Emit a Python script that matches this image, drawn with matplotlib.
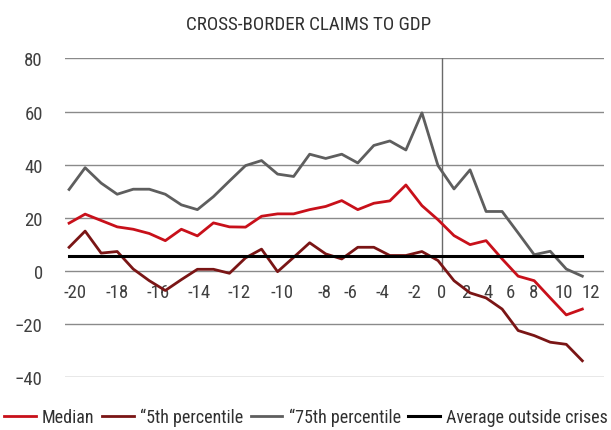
import numpy as np
import matplotlib
matplotlib.use('Agg')
import matplotlib.pyplot as plt
from matplotlib import font_manager

# 字体: 尽量用窄体
names = set(f.name for f in font_manager.fontManager.ttflist)
font = 'Liberation Sans'
for n in ['Roboto Condensed', 'Archivo Narrow', 'PT Sans Narrow', 'Liberation Sans Narrow']:
    if n in names:
        font = n
        break
plt.rcParams['font.family'] = [font, 'DejaVu Sans']

# 数据
periods = list(range(-20, 13))
median = [17.9, 21.3, 18.9, 16.5, 15.6, 14.0, 11.3, 15.6, 13.1, 18.0, 16.5,
          16.4, 20.5, 21.4, 21.4, 23.0, 24.2, 26.4, 23.0, 25.4, 26.3, 32.3,
          24.5, 19.2, 13.2, 9.8, 11.3, 4.4, -2.1, -3.8, -10.3, -16.7, -14.5]
p5 = [8.8, 14.9, 6.6, 7.2, 0.6, -3.8, -7.5, -3.4, 0.5, 0.5, -1.0,
      4.8, 8.1, -0.4, 5.0, 10.5, 6.3, 4.4, 8.8, 8.8, 5.7, 5.7,
      7.2, 3.8, -3.8, -8.4, -10.3, -14.5, -22.6, -24.5, -27.0, -27.8, -34.0]
p75 = [30.6, 38.8, 33.0, 28.8, 30.7, 30.7, 28.8, 24.8, 23.0, 27.9, 33.8,
       39.6, 41.5, 36.4, 35.5, 43.9, 42.3, 43.9, 40.6, 47.2, 48.9, 45.5,
       59.5, 39.6, 30.8, 38.0, 22.3, 22.3, 14.2, 6.0, 7.3, 0.6, -2.1]
avg_outside = 5.4

tick_labels = ['-20', '-18', '-16', '-14', '-12', '-10', '-8', '-6', '-4', '-2',
               '0', '2', '4', '6', '8', '10', '12']
# 标签位置(原图里间距不均匀)
tick_pos = [-19.62, -17.02, -14.48, -11.92, -9.4, -6.71, -4.05, -2.44, -0.46,
            1.52, 3.25, 4.71, 6.12, 7.5, 8.96, 10.85, 12.56]

fig = plt.figure(figsize=(6.11, 4.31), dpi=100)
ax = fig.add_axes([0.1065, 0.1237, 0.882, 0.7383])

grid_c = '#8a8a8a'
for v in range(-40, 81, 20):
    ax.axhline(v, color=grid_c, lw=1.0, zorder=1)
ax.plot([tick_pos[tick_labels.index('0')]] * 2, [0, 80], color='#6a6a6a', lw=1.0, zorder=1)

ax.plot(periods, median, color='#c8101a', lw=2.0, label='Median', zorder=4)
ax.plot(periods, p5, color='#7a1515', lw=2.0, label='\u201c5th percentile', zorder=3)
ax.plot(periods, p75, color='#5e5e5e', lw=2.0, label='\u201c75th percentile', zorder=3)
ax.plot([periods[0], periods[-1]], [avg_outside, avg_outside], color='black', lw=2.2,
        label='Average outside crises', zorder=5)

ax.set_xlim(-20.25, 13.35)
ax.set_ylim(-40, 80)
ax.set_yticks(range(-40, 81, 20))
ax.set_xticks(tick_pos)
ax.set_xticklabels(tick_labels)
for s in ax.spines.values():
    s.set_visible(False)
ax.spines['bottom'].set_position(('data', 0))
ax.tick_params(axis='y', length=0, pad=16, labelsize=13.5, labelcolor='#404040')
ax.tick_params(axis='x', length=0, pad=9, labelsize=13.5, labelcolor='#404040')

fig.text(0.505, 0.943, 'CROSS-BORDER CLAIMS TO GDP', ha='center', va='center',
         fontsize=13.7, color='#303030')

fig.legend(loc='center', bbox_to_anchor=(0.501, 0.03), ncol=4, frameon=False,
           fontsize=13, handlelength=1.75, handletextpad=0.35, columnspacing=0.42,
           labelcolor='#303030')

fig.savefig('out.png', dpi=100)
